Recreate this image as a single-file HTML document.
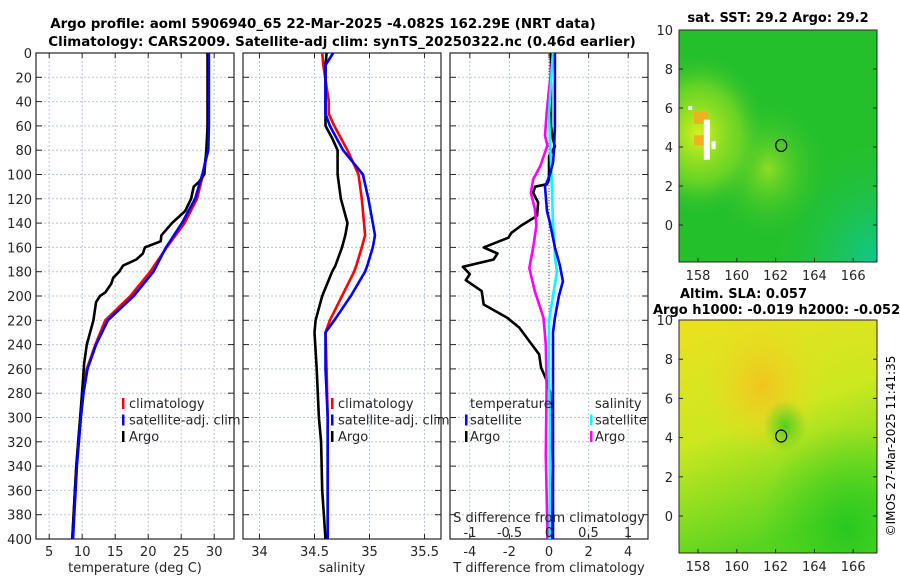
<!DOCTYPE html>
<html><head><meta charset="utf-8">
<style>
html,body{margin:0;padding:0;background:#fff;}
svg{display:block;font-family:"DejaVu Sans","Liberation Sans",sans-serif;}
</style></head>
<body>
<svg id="fig" width="900" height="580" viewBox="0 0 900 580">
<defs>
<radialGradient id="sstYellow" cx="0.1" cy="0.45" r="0.35"><stop offset="0" stop-color="#d8f020"/><stop offset="0.6" stop-color="#90e020" stop-opacity="0.6"/><stop offset="1" stop-color="#30c030" stop-opacity="0"/></radialGradient>
<radialGradient id="sstMid" cx="0.45" cy="0.6" r="0.3"><stop offset="0" stop-color="#a8e420" stop-opacity="0.8"/><stop offset="1" stop-color="#30c030" stop-opacity="0"/></radialGradient>
<radialGradient id="sstTeal" cx="1" cy="1" r="0.5"><stop offset="0" stop-color="#10c890"/><stop offset="1" stop-color="#20c050" stop-opacity="0"/></radialGradient>
<linearGradient id="slaBase" x1="0" y1="0" x2="0.3" y2="1"><stop offset="0" stop-color="#ece020"/><stop offset="0.5" stop-color="#cce820"/><stop offset="1" stop-color="#58d420"/></linearGradient>
<radialGradient id="slaOrange" cx="0.42" cy="0.28" r="0.3"><stop offset="0" stop-color="#f2c420"/><stop offset="1" stop-color="#f0d820" stop-opacity="0"/></radialGradient>
<radialGradient id="slaGreenBR" cx="0.85" cy="0.9" r="0.45"><stop offset="0" stop-color="#28c820"/><stop offset="1" stop-color="#40d020" stop-opacity="0"/></radialGradient>
<radialGradient id="slaSpot" cx="0.5" cy="0.5" r="0.5"><stop offset="0" stop-color="#50d020"/><stop offset="1" stop-color="#60d020" stop-opacity="0"/></radialGradient>
</defs>
<text x="323" y="28" text-anchor="middle" font-size="13.4" font-weight="bold">Argo profile: aoml 5906940_65 22-Mar-2025 -4.082S 162.29E (NRT data)</text>
<text x="342" y="46" text-anchor="middle" font-size="13.4" font-weight="bold">Climatology: CARS2009. Satellite-adj clim: synTS_20250322.nc (0.46d earlier)</text>
<g id="g"></g>
</svg>
<script>
// ---- data (depth in m) ----
const depthsClim = [0,20,40,60,80,100,120,140,160,180,200,220,240,260,280,300,320,340,360,380,400];
const tempClim   = [29.0,29.0,29.0,29.0,28.9,28.3,27.4,25.5,22.8,20.3,17.3,13.5,12.0,10.7,10.1,9.7,9.4,9.1,8.9,8.7,8.5];
const tempSat    = [29.2,29.2,29.2,29.2,29.1,28.2,27.1,25.1,22.7,20.8,17.8,13.9,12.1,10.8,10.2,9.8,9.5,9.2,9.0,8.8,8.6];
const depthsArgoT = [0,60,80,100,106,110,120,130,140,145,150,155,160,165,170,175,180,185,190,197,200,205,220,240,255,270,300,340,400];
const tempArgo    = [29.0,29.0,28.8,28.5,27.7,26.9,26.5,25.6,23.6,22.8,22.0,21.9,19.5,19.2,18.2,16.2,15.6,14.7,14.4,13.5,12.7,12.1,11.7,10.7,10.3,10.1,9.7,9.1,8.5];
const depthsS = [0,10,40,50,60,70,80,100,120,140,150,160,175,180,200,220,230,260,300,320,360,400];
const salClim = [34.57,34.58,34.63,34.63,34.68,34.74,34.80,34.90,34.93,34.95,34.96,34.93,34.88,34.86,34.75,34.64,34.60,34.61,34.62,34.62,34.62,34.62];
const salSat  = [34.67,34.60,34.60,34.60,34.64,34.70,34.76,34.94,34.99,35.03,35.05,35.03,34.98,34.96,34.83,34.68,34.60,34.60,34.62,34.62,34.62,34.62];
const salArgo = [34.61,34.60,34.60,34.60,34.60,34.66,34.71,34.71,34.74,34.80,34.78,34.75,34.69,34.66,34.57,34.51,34.50,34.52,34.54,34.56,34.57,34.60];
const depthsDT = [0,60,71,77,85,104,108,110,115,123,134,142,148,152,160,165,170,176,182,187,196,207,218,226,237,248,259,270,279,300,320,340,360,380,400];
const dTArgo   = [0.1,0.1,0.2,0.3,0.0,0.0,-0.1,-0.7,-0.8,-0.55,-0.6,-1.4,-1.9,-2.05,-3.3,-2.6,-2.8,-4.35,-4.0,-4.2,-3.4,-3.3,-2.1,-1.5,-1.0,-0.5,-0.4,-0.1,0.05,0.1,0.15,0.2,0.15,0.15,0.1];
const depthsDTs = [0,60,80,90,100,110,130,140,160,175,188,200,218,230,300,400];
const dTSat     = [0.3,0.3,0.25,0.2,0.05,-0.2,-0.1,0.05,0.3,0.55,0.7,0.5,0.3,0.2,0.2,0.2];
const depthsDS = [0,30,50,68,76,93,104,115,128,142,160,177,196,218,240,274,331,393,400];
const dSArgo   = [0.05,0.0,-0.03,-0.05,-0.02,-0.11,-0.2,-0.23,-0.18,-0.16,-0.2,-0.25,-0.18,-0.07,-0.04,-0.03,-0.04,-0.02,-0.02];
const depthsDSs = [0,50,100,140,170,180,200,220,260,300,400];
const dSSat     = [0.05,0.0,0.03,0.05,0.08,0.1,0.05,0.0,0.0,0.01,0.01];
const depthTicks = [0,20,40,60,80,100,120,140,160,180,200,220,240,260,280,300,320,340,360,380,400];
const tempTicks = [5,10,15,20,25,30];
const salTicks = [34,34.5,35,35.5];
const dTTicks = [-4,-2,0,2,4];
const dSTicks = [-1,-0.5,0,0.5,1];
const dSTickLabels = ['-1','-0.5','0','0.5','1'];
const lonTicks = [158,160,162,164,166];
const latTicks = [10,8,6,4,2,0];
const argoLon = [162.29];
const argoLat = [4.08];

const NS='http://www.w3.org/2000/svg';
const G=document.getElementById('g');
function mk(tag,attrs,parent){const e=document.createElementNS(NS,tag);for(const k in attrs)e.setAttribute(k,attrs[k]);(parent||G).appendChild(e);return e;}
function txt(s,x,y,a,parent,size,anchor){const e=mk('text',Object.assign({x:x,y:y,'font-size':size||13,'text-anchor':anchor||'middle',fill:'#262626'},a||{}),parent);e.textContent=s;return e;}

const Y0=53,Y1=539;
const yD=d=>Y0+(d/400)*(Y1-Y0);
function panel(name,x0,x1,xmin,xmax,xticks,xlabels,xtitle,leftLabels){
  const p=mk('g',{});
  
  
  const xs=v=>x0+(v-xmin)/(xmax-xmin)*(x1-x0);
  xticks.forEach((t,i)=>{
    const l=mk('line',{x1:xs(t),x2:xs(t),y1:Y0,y2:Y1,stroke:'#b8c4dc','stroke-width':1,'stroke-dasharray':'2,2'},p);
    
    
    mk('line',{x1:xs(t),x2:xs(t),y1:Y1,y2:Y1-5,stroke:'#262626'},p);
    mk('line',{x1:xs(t),x2:xs(t),y1:Y0,y2:Y0+5,stroke:'#262626'},p);
    if(xlabels){const tl=txt(xlabels[i],xs(t),556,{},p);}
  });
  depthTicks.forEach(d=>{
    const l=mk('line',{x1:x0,x2:x1,y1:yD(d),y2:yD(d),stroke:'#b8c4dc','stroke-width':1,'stroke-dasharray':'2,2'},p);
    
    
    mk('line',{x1:x0,x2:x0+6,y1:yD(d),y2:yD(d),stroke:'#262626'},p);
    mk('line',{x1:x1,x2:x1-6,y1:yD(d),y2:yD(d),stroke:'#262626'},p);
    if(leftLabels){const tl=txt(String(d),x0-4,yD(d)+5,{},p,13,'end');}
  });
  const b=mk('rect',{x:x0,y:Y0,width:x1-x0,height:Y1-Y0,fill:'none',stroke:'#262626','stroke-width':1.2},p);
  
  
  const tt=txt(xtitle,(x0+x1)/2,572,{},p);
  
  
  return {g:p,xs:xs};
}
function line(P,vals,deps,color,name,w){
  const pts=vals.map((v,i)=>P.xs(v).toFixed(1)+','+yD(deps[i]).toFixed(1)).join(' ');
  const l=mk('polyline',{points:pts,fill:'none',stroke:color,'stroke-width':w||2.6,'stroke-linejoin':'round'},P.g);
  
  
}
function legend(P,x,y,items,name){
  const lg=mk('g',{},P.g);
  
  
  items.forEach((it,i)=>{
    if(it[1]) mk('rect',{x:x,y:y+i*16.5-10,width:2.5,height:11,fill:it[1]},lg);
    const t=txt(it[0],x+it[2],y+i*16.5,{},lg,13,'start');
    
    
  });
}
// Panel 1 temperature
const P1=panel('temperature-panel',36,234,3,33,tempTicks,tempTicks.map(String),'temperature (deg C)',true);
line(P1,tempClim,depthsClim,'#ff0000','temp-climatology-line');
line(P1,tempArgo,depthsArgoT,'#000000','temp-argo-line');
line(P1,tempSat,depthsClim,'#0000ff','temp-satellite-line');
legend(P1,122,408,[['climatology','#ff0000',7],['satellite-adj. clim','#0000ff',7],['Argo','#000000',7]],'temp-legend');
// Panel 2 salinity
const P2=panel('salinity-panel',243,441,33.85,35.65,salTicks,['34','34.5','35','35.5'],'salinity',false);
line(P2,salClim,depthsS,'#ff0000','sal-climatology-line');
line(P2,salArgo,depthsS,'#000000','sal-argo-line');
line(P2,salSat,depthsS,'#0000ff','sal-satellite-line');
legend(P2,331,408,[['climatology','#ff0000',7],['satellite-adj. clim','#0000ff',7],['Argo','#000000',7]],'sal-legend');
// Panel 3 differences
const P3=panel('difference-panel',450,648,-5,5,dTTicks,dTTicks.map(String),'T difference from climatology',false);
const PS={g:P3.g,xs:v=>549+v*79};
const z=mk('line',{x1:549,x2:549,y1:Y0,y2:Y1,stroke:'#555','stroke-width':1,'stroke-dasharray':'1,2'},P3.g);


line(P3,dTArgo,depthsDT,'#000000','dT-argo-line');
line(PS,dSArgo,depthsDS,'#ff00ff','dS-argo-line');
line(PS,dSSat,depthsDSs,'#00ffff','dS-satellite-line');
line(P3,dTSat,depthsDTs,'#0000ff','dT-satellite-line');
dSTicks.forEach((t,i)=>{const tl=txt(dSTickLabels[i],PS.xs(t),537,{},P3.g);});
const st=txt('S difference from climatology',549,522,{},P3.g);


legend(P3,465,408,[['temperature',null,5],['satellite','#0000ff',5],['Argo','#000000',5]],'dT-legend');
legend(P3,590,408,[['salinity',null,5],['satellite','#00ffff',5],['Argo','#ff00ff',5]],'dS-legend');

// ---- maps ----
function map(name,top,bottom,lat10,lat0,layers){
  const m=mk('g',{});
  
  
  const x0=679,x1=877;
  const lx=l=>698+(l-158)*19.4;
  const ly=l=>lat0+(lat10-lat0)*l/10;
  layers(m,x0,top,x1-x0,bottom-top,lx,ly);
  mk('rect',{x:x0,y:top,width:x1-x0,height:bottom-top,fill:'none',stroke:'#262626','stroke-width':1},m);
  lonTicks.forEach(t=>{mk('line',{x1:lx(t),x2:lx(t),y1:bottom,y2:bottom-4,stroke:'#262626'},m);
    const tl=txt(String(t),lx(t),bottom+18,{},m);});
  latTicks.forEach(t=>{mk('line',{x1:x0,x2:x0+4,y1:ly(t),y2:ly(t),stroke:'#262626'},m);mk('line',{x1:x1,x2:x1-4,y1:ly(t),y2:ly(t),stroke:'#262626'},m);
    const tl=txt(String(t),x0-6,ly(t)+5,{},m,13,'end');});
  argoLon.forEach((lo,i)=>{const c=mk('ellipse',{cx:lx(lo),cy:ly(argoLat[i]),rx:5.5,ry:6,fill:'none',stroke:'#000','stroke-width':1.2},m);
    });
}
map('sst-map',30,262,30,225,(m,x,y,w,h,lx,ly)=>{
  mk('rect',{x:x,y:y,width:w,height:h,fill:'#24c02c'},m);
  mk('rect',{x:x,y:y,width:w,height:h,fill:'url(#sstTeal)'},m);
  mk('rect',{x:x,y:y,width:w,height:h,fill:'url(#sstMid)'},m);
  mk('rect',{x:x,y:y,width:w,height:h,fill:'url(#sstYellow)'},m);
  mk('rect',{x:lx(157.8),y:ly(5.8),width:14,height:12,fill:'#f0b020'},m);
  mk('rect',{x:lx(157.8),y:ly(4.6),width:14,height:10,fill:'#f0b020'},m);
  mk('rect',{x:lx(158.3),y:ly(5.4),width:6,height:40,fill:'#fff'},m);
  mk('rect',{x:lx(158.7),y:ly(4.3),width:4,height:8,fill:'#fff'},m);
  mk('rect',{x:lx(157.5),y:ly(6.1),width:4,height:4,fill:'#fff'},m);
  const t=txt('sat. SST: 29.2 Argo: 29.2',778,22,{'font-weight':'bold',fill:'#000'},m);
  
});
map('sla-map',320,553,320,516,(m,x,y,w,h,lx,ly)=>{
  mk('rect',{x:x,y:y,width:w,height:h,fill:'url(#slaBase)'},m);
  mk('rect',{x:x,y:y,width:w,height:h,fill:'url(#slaOrange)'},m);
  mk('rect',{x:x,y:y,width:w,height:h,fill:'url(#slaGreenBR)'},m);
  mk('ellipse',{cx:lx(162.5),cy:ly(4.6),rx:22,ry:26,fill:'url(#slaSpot)'},m);
  const t1=txt('Altim. SLA: 0.057',680,298,{'font-weight':'bold',fill:'#000'},m,13,'start');
  
  const t2=txt('Argo h1000: -0.019 h2000: -0.052',653,314,{'font-weight':'bold',fill:'#000'},m,13,'start');
  
});
const cr=txt('©IMOS 27-Mar-2025 11:41:35',0,0,{transform:'translate(895,446) rotate(-90)',fill:'#000'},G,12);


</script>
</body></html>
